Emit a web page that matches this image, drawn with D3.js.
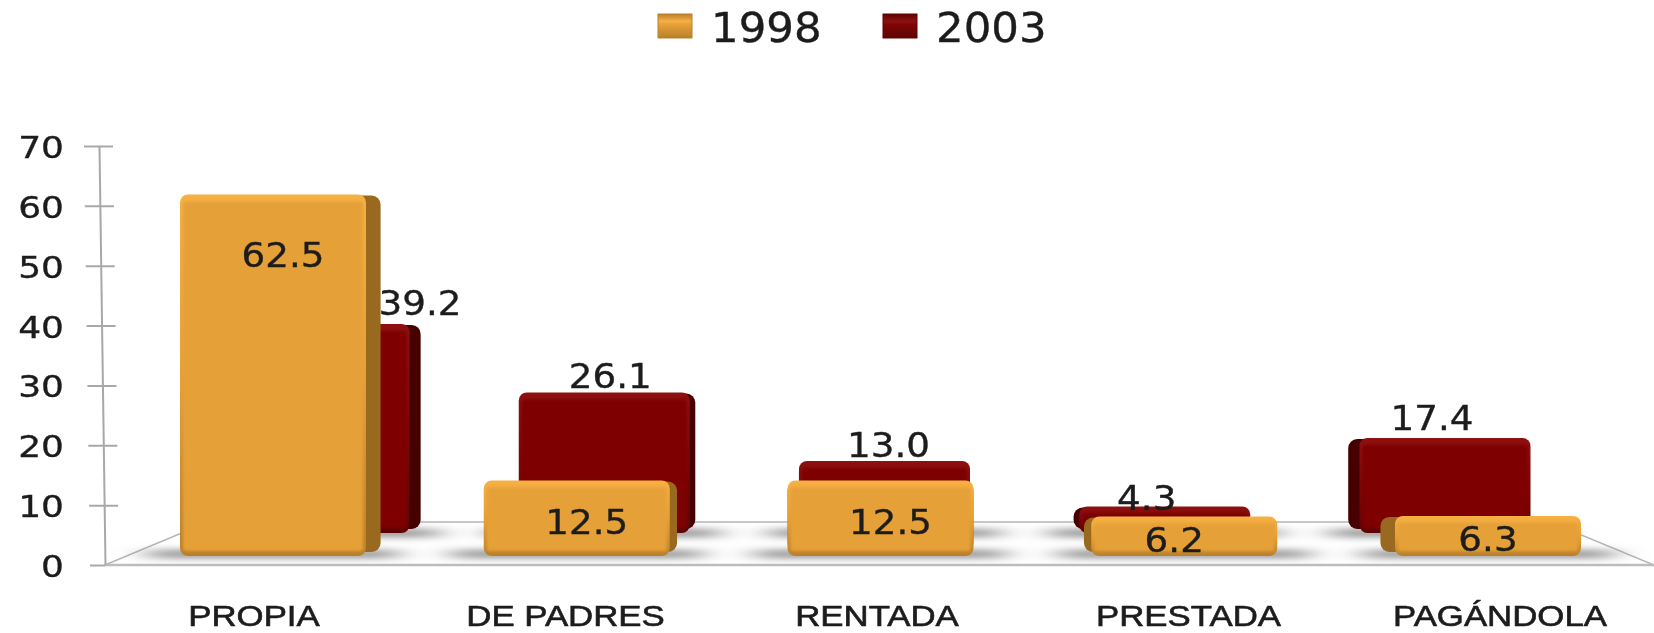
<!DOCTYPE html>
<html>
<head>
<meta charset="utf-8">
<script src="https://cdn.jsdelivr.net/npm/d3@7"></script>
<style>
html,body{margin:0;padding:0;background:#fff;overflow:hidden}
svg{display:block;filter:blur(0.7px)}
text{font-family:"DejaVu Sans",sans-serif;fill:#1c1c1c;stroke:#1c1c1c;stroke-width:0.35px}
</style>
</head>
<body>
<svg id="chart" width="1654" height="633"></svg>
<script>
// ---- data ----
const categories = ["PROPIA", "DE PADRES", "RENTADA", "PRESTADA", "PAGÁNDOLA"];
const seriesNames = ["1998", "2003"];
const values1998 = [62.5, 12.5, 12.5, 6.2, 6.3];
const values2003 = [39.2, 26.1, 13.0, 4.3, 17.4];
const tickValues = [0, 10, 20, 30, 40, 50, 60, 70];

// ---- hand-placed label offsets, as in the original ----
const nudge1998 = [[10, 56.5], [10, 37.5], [10, 37.5], [-10, 19.5], [0, 19.5]];
const nudge2003 = [[96, -24.5], [6, -20.5], [4, -19.5], [-18, -12.5], [-13, -23.5]];

// ---- layout ----
const W = 1654, vanishX = 881;
const svg = d3.select("#chart");
const defs = svg.append("defs");

const yAxisScale = d3.scaleLinear().domain([0, 70]).range([565, 146]);
// front row and back row stand on different floor lines and shrink with depth
const yFront = d3.scaleLinear().domain([0, 70]).range([556, 556 - 5.72 * 70]);
const yBack = d3.scaleLinear().domain([0, 70]).range([533, 533 - 5.23 * 70]);
const xFront = d3.scalePoint().domain(categories).range([273, 1488]);
const xBack = d3.scalePoint().domain(categories).range([324, 1445]);
const xLabel = d3.scalePoint().domain(categories).range([254, 1500]);
const color = d3.scaleOrdinal().domain(seriesNames).range(["#E5A037", "#7E0606"]);
const sideColor = d3.scaleOrdinal().domain(seriesNames).range(["#99691F", "#470000"]);
const lightColor = d3.scaleOrdinal().domain(seriesNames).range(["#F6B043", "#8E1010"]);
const darkColor = d3.scaleOrdinal().domain(seriesNames).range(["#B9802A", "#5E0303"]);

seriesNames.forEach(s => {
  const g = defs.append("linearGradient").attr("id", "bevel" + s)
    .attr("x1", 0).attr("y1", 0).attr("x2", 0).attr("y2", 1);
  g.append("stop").attr("offset", 0).attr("stop-color", lightColor(s));
  g.append("stop").attr("offset", 0.5).attr("stop-color", color(s));
  g.append("stop").attr("offset", 1).attr("stop-color", darkColor(s));
  const h = defs.append("linearGradient").attr("id", "swatch" + s)
    .attr("x1", 0).attr("y1", 0).attr("x2", 0).attr("y2", 1);
  h.append("stop").attr("offset", 0).attr("stop-color", darkColor(s));
  h.append("stop").attr("offset", 0.3).attr("stop-color", lightColor(s));
  h.append("stop").attr("offset", 0.45).attr("stop-color", color(s));
  h.append("stop").attr("offset", 1).attr("stop-color", darkColor(s));
});
defs.append("filter").attr("id", "soft").attr("x", "-20%").attr("y", "-300%").attr("width", "140%").attr("height", "700%")
  .append("feGaussianBlur").attr("stdDeviation", "16 3.5");
defs.append("filter").attr("id", "inner").attr("x", "-10%").attr("y", "-10%").attr("width", "120%").attr("height", "120%")
  .append("feGaussianBlur").attr("stdDeviation", 1.4);
defs.append("filter").attr("id", "edge").attr("x", "-10%").attr("y", "-10%").attr("width", "120%").attr("height", "120%")
  .append("feGaussianBlur").attr("stdDeviation", 1);

// ---- floor ----
const floorBack = 522, floorFront = yAxisScale(0);
svg.append("path")
  .attr("d", d3.line()([[105, floorFront], [208, floorBack], [1550, floorBack], [W, floorFront]]))
  .attr("fill", "#fff").attr("stroke", "#b5b5b5").attr("stroke-width", 1.4);
svg.append("line").attr("x1", 105).attr("x2", W).attr("y1", floorFront).attr("y2", floorFront)
  .attr("stroke", "#bdbdbd").attr("stroke-width", 2.4);

// ---- shadows on the floor ----
const shadows = svg.append("g").attr("filter", "url(#soft)").attr("fill", "#8f8f8f");
shadows.selectAll("rect.b").data(categories).join("rect").attr("class", "b")
  .attr("x", d => xBack(d) - 115).attr("width", 230).attr("y", 529).attr("height", 8);
shadows.selectAll("rect.f").data(categories).join("rect").attr("class", "f")
  .attr("x", d => xFront(d) - 125).attr("width", 250).attr("y", 550).attr("height", 8);

// ---- axis: leans right towards the floor corner ----
const lean = 6 / 419;
const axisG = svg.append("g")
  .attr("transform", `translate(${105 - 565 * lean},0) skewX(${Math.atan(lean) * 180 / Math.PI})`);
axisG.call(d3.axisLeft(yAxisScale).tickValues(tickValues).tickSize(0).tickFormat(""));
axisG.select(".domain").attr("stroke", "#a8a8a8").attr("stroke-width", 2);
axisG.selectAll(".tick line").attr("x1", -15).attr("x2", 14).attr("stroke", "#a8a8a8").attr("stroke-width", 2);
axisG.select(".tick line").attr("x2", 0);

svg.append("g").selectAll("text").data(tickValues).join("text")
  .attr("text-anchor", "end")
  .attr("font-size", 30)
  .attr("transform", d => `translate(64,${yAxisScale(d) + 12}) scale(1.2,1)`)
  .text(d => d);

// ---- bars ----
function drawBars(rows, series, xs, ys, w, depth) {
  const g = svg.append("g").attr("class", "bars-" + series);
  const item = g.selectAll("g").data(rows).join("g");
  const left = d => xs(d.c) - w / 2;
  const top = d => ys(d.v) - 4;
  const h = d => ys(0) - top(d);
  const side = d => (vanishX - xs(d.c)) * depth;
  item.append("rect")
    .attr("x", d => left(d) + side(d)).attr("y", d => top(d) + 1)
    .attr("width", w).attr("height", d => h(d) - 5).attr("rx", 9)
    .attr("fill", sideColor(series));
  item.append("rect")
    .attr("x", left).attr("y", top).attr("width", w).attr("height", h).attr("rx", 8)
    .attr("fill", `url(#bevel${series})`);
  item.append("rect")
    .attr("x", d => left(d) + 3).attr("y", d => top(d) + 7)
    .attr("width", w - 6).attr("height", d => Math.max(2, h(d) - 12)).attr("rx", 3)
    .attr("fill", color(series)).attr("filter", "url(#inner)");
}
function drawValues(rows, xs, ys, nudges, size) {
  svg.append("g").selectAll("text").data(rows).join("text")
    .attr("text-anchor", "middle")
    .attr("font-size", size)
    .attr("transform", (d, i) => `translate(${xs(d.c) + nudges[i][0]},${ys(d.v) + nudges[i][1] + size * 0.36}) scale(1.13,1)`)
    .text(d => d.v.toFixed(1));
}
const rows1998 = categories.map((c, i) => ({ c, v: values1998[i] }));
const rows2003 = categories.map((c, i) => ({ c, v: values2003[i] }));

drawBars(rows2003, "2003", xBack, yBack, 171, 0.02);
drawValues(rows2003, xBack, yBack, nudge2003, 33);
drawBars(rows1998, "1998", xFront, yFront, 186, 0.024);
drawValues(rows1998, xFront, yFront, nudge1998, 33);

// ---- category labels ----
svg.append("g").selectAll("text").data(categories).join("text")
  .attr("text-anchor", "middle")
  .attr("font-size", 29)
  .attr("transform", d => `translate(${xLabel(d)},626) scale(1.2,1)`)
  .style("font-family", "'Liberation Sans',sans-serif")
  .style("stroke-width", "0.6px")
  .text(d => d);

// ---- legend ----
const legendX = d3.scalePoint().domain(seriesNames).range([658, 883]);
const legend = svg.append("g").selectAll("g").data(seriesNames).join("g")
  .attr("transform", d => `translate(${legendX(d)},14)`);
legend.append("rect").attr("width", 34).attr("height", 24)
  .attr("fill", d => `url(#swatch${d})`)
  .attr("stroke", d => darkColor(d)).attr("stroke-width", 1);
legend.append("text")
  .attr("font-size", 41)
  .attr("transform", `translate(53,28) scale(1.06,1)`)
  .text(d => d);
</script>
</body>
</html>
